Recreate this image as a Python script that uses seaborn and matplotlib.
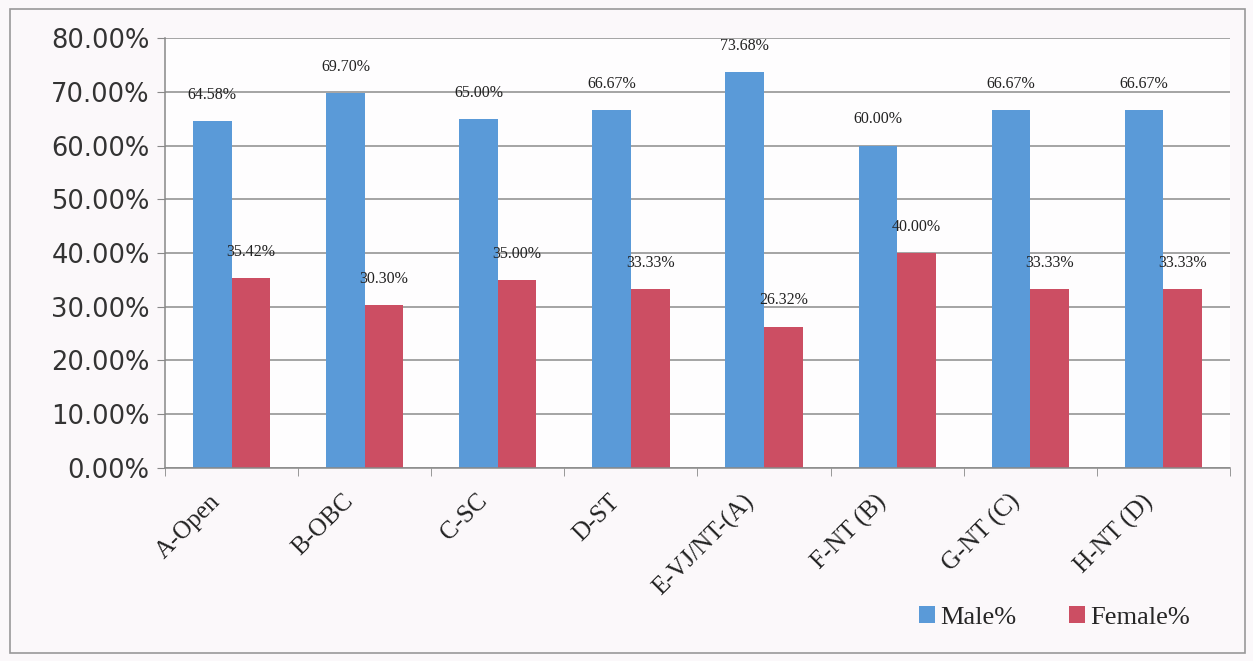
import pandas as pd
import matplotlib.pyplot as plt
import seaborn as sns
from matplotlib.patches import Rectangle
from matplotlib.ticker import FuncFormatter
from matplotlib.transforms import ScaledTranslation

categories = ['A-Open', 'B-OBC', 'C-SC', 'D-ST', 'E-VJ/NT-(A)', 'F-NT (B)', 'G-NT (C)', 'H-NT (D)']
male_pct = [64.58, 69.70, 65.00, 66.67, 73.68, 60.00, 66.67, 66.67]
female_pct = [35.42, 30.30, 35.00, 33.33, 26.32, 40.00, 33.33, 33.33]
series = ['Male%', 'Female%']
colors = ['#5A9AD8', '#CC4E63']

df = pd.DataFrame({
    'Category': categories * 2,
    'Series': [series[0]] * len(categories) + [series[1]] * len(categories),
    'Value': male_pct + female_pct,
})

sns.set_style('white')
plt.rcParams['font.family'] = ['DejaVu Serif']

fig = plt.figure(figsize=(12.53, 6.61), dpi=100)
fig.patch.set_facecolor('#FBF8FA')
ax = fig.add_axes([0.1317, 0.292, 0.8499, 0.6505])
ax.set_facecolor('#FEFDFE')

sns.barplot(data=df, x='Category', y='Value', hue='Series', palette=colors,
            width=0.58, gap=0, saturation=1, linewidth=0, edgecolor='none',
            ax=ax, legend=True)

# value labels
for cont in ax.containers:
    ax.bar_label(cont, labels=[f'{v:.2f}%' for v in cont.datavalues],
                 padding=13, fontsize=11.5, family='Liberation Serif', color='#222222')

ax.set_ylim(0, 80)
ax.set_yticks(range(0, 81, 10))
ax.yaxis.set_major_formatter(FuncFormatter(lambda v, p: f'{v:.2f}%'))
ax.set_xlim(-0.5, len(categories) - 0.5)
ax.grid(axis='y', color='#8C8C8C', linewidth=1.1)
ax.set_axisbelow(True)
ax.tick_params(axis='y', labelsize=18.5, length=6, color='#888888', pad=5, left=True)
for lab in ax.get_yticklabels():
    lab.set_family('DejaVu Sans')
    lab.set_color('#333333')

ax.set_xticks([i + 0.5 for i in range(-1, len(categories))], minor=True)
ax.tick_params(axis='x', which='major', length=0, labelsize=18, pad=16)
ax.tick_params(axis='x', which='minor', length=6, color='#888888', bottom=True)
ax.set_xticks(range(len(categories)))
ax.set_xticklabels(categories, rotation=45, ha='right', rotation_mode='anchor',
                   family='Liberation Serif', color='#222222')
shift = ScaledTranslation(-22 / 100, 0, fig.dpi_scale_trans)
for lab in ax.get_xticklabels():
    lab.set_transform(lab.get_transform() + shift)

for s in ['top', 'right']:
    ax.spines[s].set_visible(False)
for s in ['left', 'bottom']:
    ax.spines[s].set_color('#888888')
    ax.spines[s].set_linewidth(1.1)
ax.set_xlabel('')
ax.set_ylabel('')

ax.legend(loc='lower right', bbox_to_anchor=(0.985, -0.43), ncol=2, frameon=False,
          handlelength=0.6, handleheight=0.6, handletextpad=0.2,
          columnspacing=2.0, prop={'family': 'Liberation Serif', 'size': 19})

fig.add_artist(Rectangle((0.008, 0.012), 0.986, 0.975, transform=fig.transFigure,
                         fill=False, edgecolor='#999999', linewidth=1.2))

fig.savefig('out.png', dpi=100, facecolor=fig.get_facecolor())
